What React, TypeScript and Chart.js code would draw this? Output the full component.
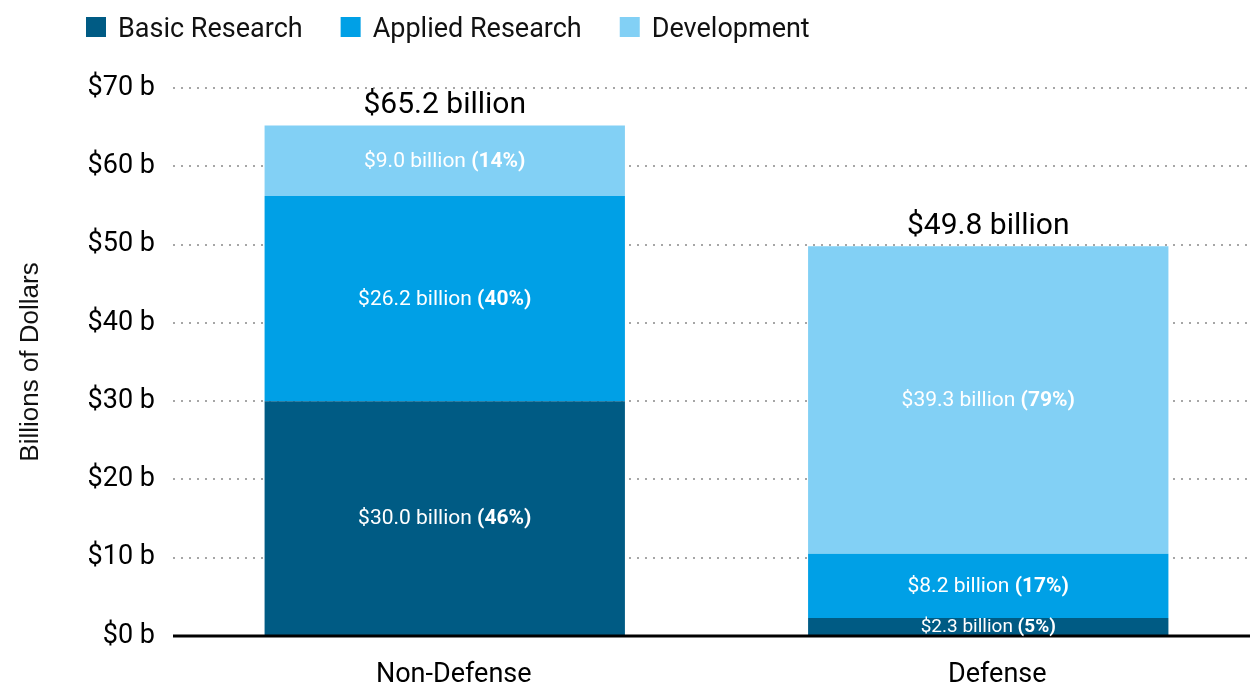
import React, { useEffect, useRef } from 'react';
import { Chart, registerables } from 'chart.js';

Chart.register(...registerables);

const categories = ['Non-Defense', 'Defense'];
const seriesNames = ['Basic Research', 'Applied Research', 'Development'];
const basicResearch = [30.0, 2.3];
const appliedResearch = [26.2, 8.2];
const development = [9.0, 39.3];
const basicPct = [46, 5];
const appliedPct = [40, 17];
const developmentPct = [14, 79];
const seriesColors = ['#005b84', '#00a0e6', '#82d0f5'];
const yMin = 0;
const yMax = 70;
const yStep = 10;

const FONT = 'Roboto, "Noto Sans", sans-serif';

const pctTable = [basicPct, appliedPct, developmentPct];

const labelPlugin = {
  id: 'customLabels',
  afterDatasetsDraw(chart: any) {
    const ctx = chart.ctx;
    const yScale = chart.scales.y;
    const area = chart.chartArea;
    ctx.save();
    // zero baseline
    const y0 = yScale.getPixelForValue(0);
    ctx.strokeStyle = '#000';
    ctx.lineWidth = 3;
    ctx.beginPath();
    ctx.moveTo(area.left, y0);
    ctx.lineTo(area.right, y0);
    ctx.stroke();

    // segment labels
    chart.data.datasets.forEach((ds: any, di: number) => {
      const meta = chart.getDatasetMeta(di);
      meta.data.forEach((bar: any, i: number) => {
        const v = ds.data[i];
        const pct = pctTable[di][i];
        const { x, y, base } = bar.getProps(['x', 'y', 'base'], true);
        const h = Math.abs(base - y);
        const size = h < 26 ? 19 : 21;
        const normal = `$${v.toFixed(1)} billion `;
        const bold = `(${pct}%)`;
        ctx.font = `${size}px ${FONT}`;
        const w1 = ctx.measureText(normal).width;
        ctx.font = `bold ${size}px ${FONT}`;
        const w2 = ctx.measureText(bold).width;
        const sx = x - (w1 + w2) / 2;
        const cy = (y + base) / 2 + 1;
        ctx.fillStyle = '#ffffff';
        ctx.textBaseline = 'middle';
        ctx.textAlign = 'left';
        ctx.font = `${size}px ${FONT}`;
        ctx.fillText(normal, sx, cy);
        ctx.font = `bold ${size}px ${FONT}`;
        ctx.fillText(bold, sx + w1, cy);
      });
    });

    // totals
    categories.forEach((_, i) => {
      const total = basicResearch[i] + appliedResearch[i] + development[i];
      const topMeta = chart.getDatasetMeta(chart.data.datasets.length - 1);
      const bar = topMeta.data[i];
      const { x } = bar.getProps(['x'], true);
      const yTop = yScale.getPixelForValue(total);
      ctx.font = `30px ${FONT}`;
      ctx.fillStyle = '#000';
      ctx.textAlign = 'center';
      ctx.textBaseline = 'middle';
      ctx.fillText(`$${total.toFixed(1)} billion`, x, yTop - 20);
    });
    ctx.restore();
  },
  afterDraw(chart: any) {
    const ctx = chart.ctx;
    ctx.save();
    let x = 86;
    const boxTop = 17;
    const box = 20;
    ctx.font = `27px ${FONT}`;
    ctx.textBaseline = 'middle';
    ctx.textAlign = 'left';
    seriesNames.forEach((name, i) => {
      ctx.fillStyle = seriesColors[i];
      ctx.fillRect(x, boxTop, box, box);
      ctx.fillStyle = '#111';
      ctx.fillText(name, x + box + 12, boxTop + box / 2 + 3);
      x += box + 12 + ctx.measureText(name).width + 38;
    });
    ctx.restore();
  },
};

export default function App() {
  const canvasRef = useRef<HTMLCanvasElement | null>(null);

  useEffect(() => {
    if (!canvasRef.current) return;
    const chart = new Chart(canvasRef.current, {
      type: 'bar',
      data: {
        labels: categories,
        datasets: [
          { label: seriesNames[0], data: basicResearch, backgroundColor: seriesColors[0] },
          { label: seriesNames[1], data: appliedResearch, backgroundColor: seriesColors[1] },
          { label: seriesNames[2], data: development, backgroundColor: seriesColors[2] },
        ],
      },
      options: {
        responsive: false,
        animation: false,
        devicePixelRatio: 1,
        layout: { padding: { top: 88, left: 0, right: 0, bottom: 0 } },
        datasets: { bar: { barPercentage: 0.663, categoryPercentage: 1 } },
        plugins: {
          legend: { display: false },
          tooltip: { enabled: false },
          title: { display: false },
        },
        scales: {
          x: {
            stacked: true,
            grid: { display: false },
            border: { display: false },
            ticks: {
              font: { family: FONT, size: 27 },
              color: '#000',
              padding: 15,
              maxRotation: 0,
              labelOffset: 9,
            },
            afterFit: (scale: any) => {
              scale.height = 49;
            },
          },
          y: {
            stacked: true,
            min: yMin,
            max: yMax,
            border: { display: false, dash: [2, 6] },
            grid: {
              color: (c: any) => (c.tick && c.tick.value === 0 ? 'rgba(0,0,0,0)' : '#a6a6a6'),
              lineWidth: 2,
              drawTicks: false,
            },
            ticks: {
              stepSize: yStep,
              font: { family: FONT, size: 27 },
              color: '#000',
              padding: 18,
              callback: (v: any) => `$${v} b`,
            },
            title: {
              display: true,
              text: 'Billions of Dollars',
              font: { family: '"Liberation Sans", Arial, sans-serif', size: 26 },
              color: '#111',
              padding: { top: 15, bottom: 0 },
            },
            afterFit: (scale: any) => {
              scale.width = 173;
            },
          },
        },
      },
      plugins: [labelPlugin],
    });
    return () => chart.destroy();
  }, []);

  return (
    <div
      style={{
        position: 'fixed',
        left: 0,
        top: 0,
        width: 1250,
        height: 685,
        overflow: 'hidden',
        background: '#fff',
      }}
    >
      <canvas ref={canvasRef} width={1260} height={685} style={{ display: 'block' }} />
    </div>
  );
}
